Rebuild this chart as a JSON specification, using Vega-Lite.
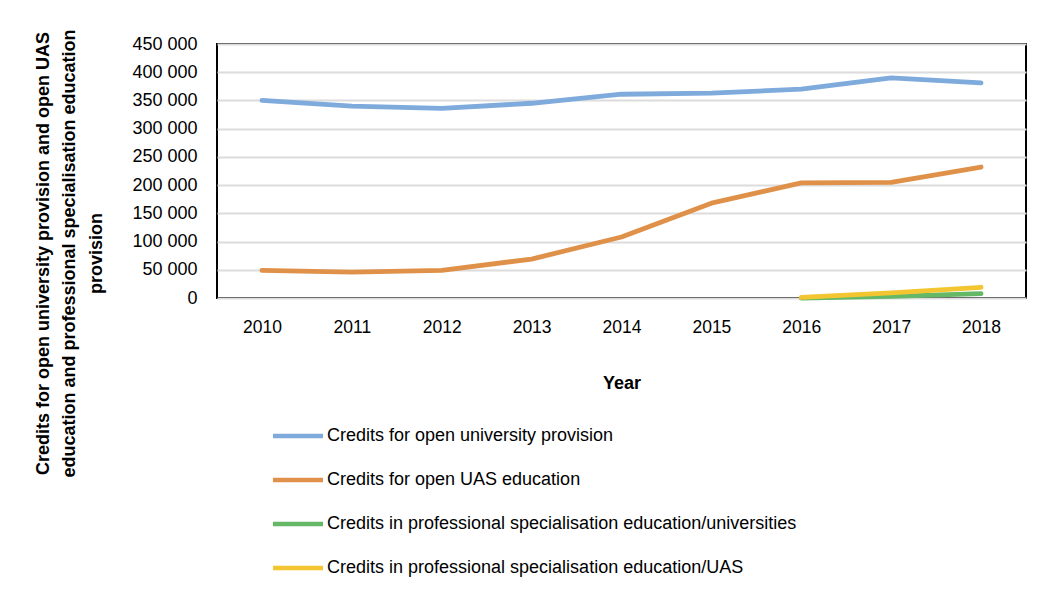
{
  "$schema": "https://vega.github.io/schema/vega-lite/v6.json",
  "width": 809,
  "height": 254,
  "autosize": "none",
  "padding": {"left": 217, "top": 44, "right": 29, "bottom": 301},
  "background": "white",
  "config": {
    "font": "Liberation Sans",
    "locale": {"number": {"decimal": ".", "thousands": " ", "grouping": [3], "currency": ["", ""]}},
    "view": {"stroke": "black", "strokeWidth": 2}
  },
  "data": {"values": [
    {"Year": "2010", "series": "Credits for open university provision", "value": 350000},
    {"Year": "2011", "series": "Credits for open university provision", "value": 340000},
    {"Year": "2012", "series": "Credits for open university provision", "value": 336000},
    {"Year": "2013", "series": "Credits for open university provision", "value": 345000},
    {"Year": "2014", "series": "Credits for open university provision", "value": 361000},
    {"Year": "2015", "series": "Credits for open university provision", "value": 363000},
    {"Year": "2016", "series": "Credits for open university provision", "value": 370000},
    {"Year": "2017", "series": "Credits for open university provision", "value": 390000},
    {"Year": "2018", "series": "Credits for open university provision", "value": 381000},
    {"Year": "2010", "series": "Credits for open UAS education", "value": 49000},
    {"Year": "2011", "series": "Credits for open UAS education", "value": 46000},
    {"Year": "2012", "series": "Credits for open UAS education", "value": 49000},
    {"Year": "2013", "series": "Credits for open UAS education", "value": 69000},
    {"Year": "2014", "series": "Credits for open UAS education", "value": 108000},
    {"Year": "2015", "series": "Credits for open UAS education", "value": 168000},
    {"Year": "2016", "series": "Credits for open UAS education", "value": 204000},
    {"Year": "2017", "series": "Credits for open UAS education", "value": 205000},
    {"Year": "2018", "series": "Credits for open UAS education", "value": 232000},
    {"Year": "2016", "series": "Credits in professional specialisation education/universities", "value": 0},
    {"Year": "2017", "series": "Credits in professional specialisation education/universities", "value": 3000},
    {"Year": "2018", "series": "Credits in professional specialisation education/universities", "value": 7600},
    {"Year": "2016", "series": "Credits in professional specialisation education/UAS", "value": 1000},
    {"Year": "2017", "series": "Credits in professional specialisation education/UAS", "value": 9000},
    {"Year": "2018", "series": "Credits in professional specialisation education/UAS", "value": 19000}
  ]},
  "mark": {"type": "line", "strokeWidth": 4.8, "strokeCap": "round", "strokeJoin": "round"},
  "encoding": {
    "x": {
      "field": "Year", "type": "ordinal",
      "scale": {"type": "point", "padding": 0.5},
      "axis": {
        "title": "Year", "titleFontSize": 18, "titleFontWeight": "bold", "titleColor": "black", "titlePadding": 39,
        "labelAngle": 0, "labelFontSize": 17.5, "labelColor": "black", "labelPadding": 20,
        "ticks": false, "domain": false, "grid": false
      }
    },
    "y": {
      "field": "value", "type": "quantitative",
      "scale": {"domain": [0, 450000], "nice": false},
      "axis": {
        "values": [0, 50000, 100000, 150000, 200000, 250000, 300000, 350000, 400000, 450000],
        "format": ",d",
        "labelFontSize": 18, "labelColor": "black", "labelPadding": 20,
        "ticks": false, "domain": false,
        "grid": true, "gridColor": "#dcdcdc", "gridWidth": 2,
        "title": ["Credits for open university provision and open UAS", "education and professional specialisation education", "provision"],
        "titleFontSize": 18, "titleFontWeight": "bold", "titleColor": "black",
        "titleAngle": 270, "titleAlign": "center", "titleBaseline": "top",
        "titleX": -183, "titleY": 209, "titleLineHeight": 26.5
      }
    },
    "color": {
      "field": "series", "type": "nominal",
      "sort": ["Credits for open university provision", "Credits for open UAS education", "Credits in professional specialisation education/universities", "Credits in professional specialisation education/UAS"],
      "scale": {
        "domain": ["Credits for open university provision", "Credits for open UAS education", "Credits in professional specialisation education/universities", "Credits in professional specialisation education/UAS"],
        "range": ["#7eaadc", "#e09149", "#64b866", "#f3c631"]
      },
      "legend": {
        "title": null, "orient": "none", "legendX": 72, "legendY": 383, "direction": "vertical",
        "symbolType": "M-5,0H5", "symbolSize": 100, "symbolStrokeWidth": 4.5,
        "labelFontSize": 18, "labelColor": "black", "labelOffset": 20, "labelLimit": 700,
        "rowPadding": 26
      }
    }
  }
}
